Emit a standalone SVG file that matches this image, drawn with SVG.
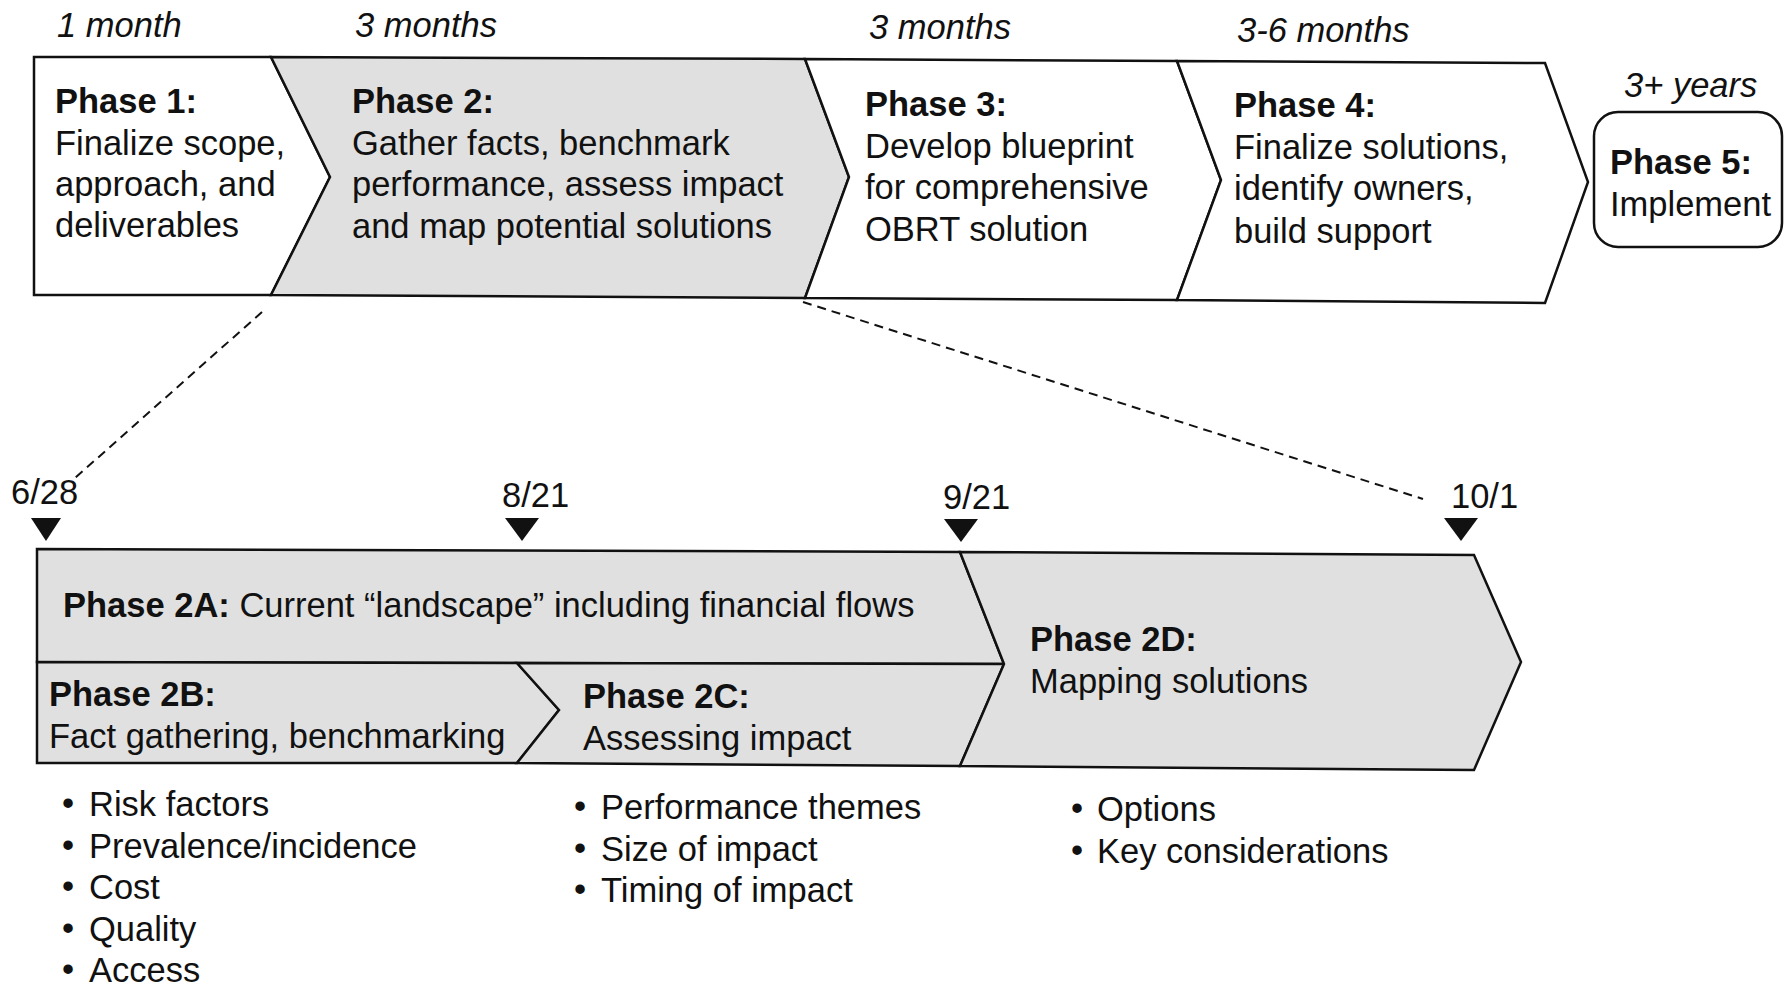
<svg xmlns="http://www.w3.org/2000/svg" width="1785" height="987" viewBox="0 0 1785 987">
<style>
text{font-family:"Liberation Sans",Arial,sans-serif;font-size:34.5px;fill:#111}
.it{font-style:italic}
.b{font-weight:bold}
.w{fill:#ffffff;stroke:#111;stroke-width:2.5;stroke-linejoin:miter}
.g{fill:#e0e0e0;stroke:#111;stroke-width:2.5;stroke-linejoin:miter}
.dash{fill:none;stroke:#111;stroke-width:2;stroke-dasharray:9 6}
.tri{fill:#111}
</style>
<rect width="1785" height="987" fill="#ffffff"/>
<g id="connectors">
<line class="dash" x1="262" y1="312" x2="75" y2="478"/>
<line class="dash" x1="803" y1="302" x2="1423" y2="499"/>
</g>
<g id="durations">
<text class="it" x="57" y="37">1 month</text>
<text class="it" x="355" y="37">3 months</text>
<text class="it" x="869" y="39">3 months</text>
<text class="it" x="1237" y="42">3-6 months</text>
<text class="it" x="1624" y="97">3+ years</text>
</g>
<g id="phase1">
<polygon class="w" points="34,57 271,57 330,177 271,295 34,295"/>
<text x="55" y="113"><tspan class="b">Phase 1:</tspan><tspan x="55" dy="42">Finalize scope,</tspan><tspan x="55" dy="41">approach, and</tspan><tspan x="55" dy="41">deliverables</tspan></text>
</g>
<g id="phase2">
<polygon class="g" points="271,57 805,59 849,177 805,298 271,295 330,177"/>
<text x="352" y="113"><tspan class="b">Phase 2:</tspan><tspan x="352" dy="42">Gather facts, benchmark</tspan><tspan x="352" dy="41">performance, assess impact</tspan><tspan x="352" dy="42">and map potential solutions</tspan></text>
</g>
<g id="phase3">
<polygon class="w" points="805,59 1177,61 1221,180 1177,300 805,298 849,177"/>
<text x="865" y="116"><tspan class="b">Phase 3:</tspan><tspan x="865" dy="42">Develop blueprint</tspan><tspan x="865" dy="41">for comprehensive</tspan><tspan x="865" dy="42">OBRT solution</tspan></text>
</g>
<g id="phase4">
<polygon class="w" points="1177,61 1545,63 1588,182 1545,303 1177,300 1221,180"/>
<text x="1234" y="117"><tspan class="b">Phase 4:</tspan><tspan x="1234" dy="42">Finalize solutions,</tspan><tspan x="1234" dy="41">identify owners,</tspan><tspan x="1234" dy="43">build support</tspan></text>
</g>
<g id="phase5">
<rect class="w" x="1594" y="112" width="188" height="135" rx="24" ry="24"/>
<text x="1610" y="174"><tspan class="b">Phase 5:</tspan><tspan x="1610" dy="42">Implement</tspan></text>
</g>
<g id="dates">
<text x="11" y="504">6/28</text>
<polygon class="tri" points="31,518 61,518 46,541"/>
<text x="502" y="507">8/21</text>
<polygon class="tri" points="505,518 539,518 522,541"/>
<text x="943" y="509">9/21</text>
<polygon class="tri" points="944,519 978,519 961,542"/>
<text x="1451" y="508">10/1</text>
<polygon class="tri" points="1444,518 1478,518 1461,541"/>
</g>
<g id="phase2A">
<polygon class="g" points="37,549 960,552 1004,664 37,662"/>
<text x="63" y="617"><tspan class="b">Phase 2A:</tspan> Current “landscape” including financial flows</text>
</g>
<g id="phase2B">
<polygon class="g" points="37,662 517,663 559,710 517,763 37,763"/>
<text x="49" y="706"><tspan class="b">Phase 2B:</tspan><tspan x="49" dy="42">Fact gathering, benchmarking</tspan></text>
</g>
<g id="phase2C">
<polygon class="g" points="517,663 1004,664 960,766 517,763 559,710"/>
<text x="583" y="708"><tspan class="b">Phase 2C:</tspan><tspan x="583" dy="42">Assessing impact</tspan></text>
</g>
<g id="phase2D">
<polygon class="g" points="960,552 1474,555 1521,662 1474,770 960,766 1004,664"/>
<text x="1030" y="651"><tspan class="b">Phase 2D:</tspan><tspan x="1030" dy="42">Mapping solutions</tspan></text>
</g>
<g id="bullets2B">
<text x="62" y="815">•</text><text x="89" y="816">Risk factors</text>
<text x="62" y="857">•</text><text x="89" y="858">Prevalence/incidence</text>
<text x="62" y="898">•</text><text x="89" y="899">Cost</text>
<text x="62" y="940">•</text><text x="89" y="941">Quality</text>
<text x="62" y="981">•</text><text x="89" y="982">Access</text>
</g>
<g id="bullets2C">
<text x="574" y="818">•</text><text x="601" y="819">Performance themes</text>
<text x="574" y="860">•</text><text x="601" y="861">Size of impact</text>
<text x="574" y="901">•</text><text x="601" y="902">Timing of impact</text>
</g>
<g id="bullets2D">
<text x="1071" y="820">•</text><text x="1097" y="821">Options</text>
<text x="1071" y="862">•</text><text x="1097" y="863">Key considerations</text>
</g>
</svg>
